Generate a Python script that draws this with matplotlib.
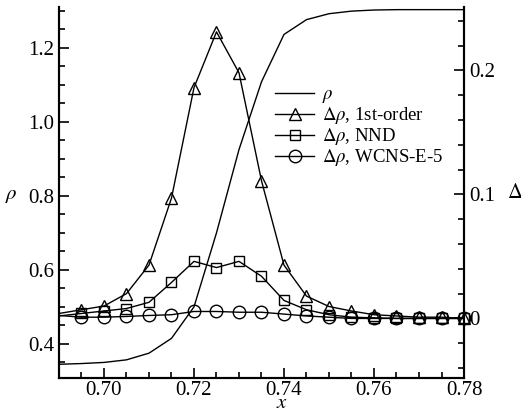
import numpy as np
import matplotlib
matplotlib.use("Agg")
import matplotlib.pyplot as plt
from matplotlib.ticker import MultipleLocator, FormatStrFormatter

plt.rcParams['font.family'] = ['Liberation Serif', 'DejaVu Serif']
plt.rcParams['mathtext.fontset'] = 'stix'

# density profile (left axis)
x_rho = [0.69, 0.695, 0.70, 0.705, 0.71, 0.715, 0.72, 0.725, 0.73, 0.735, 0.74,
         0.745, 0.75, 0.755, 0.76, 0.765, 0.77, 0.775, 0.78]
rho = [0.345, 0.347, 0.350, 0.357, 0.375, 0.415, 0.500, 0.700, 0.925, 1.108, 1.236,
       1.276, 1.292, 1.299, 1.302, 1.303, 1.303, 1.303, 1.303]

# density errors (right axis)
x_d = [0.69, 0.695, 0.70, 0.705, 0.71, 0.715, 0.72, 0.725, 0.73, 0.735, 0.74,
       0.745, 0.75, 0.755, 0.76, 0.765, 0.77, 0.775, 0.78]
d_first = [0.004, 0.007, 0.010, 0.020, 0.043, 0.097, 0.186, 0.231, 0.198, 0.111, 0.043,
           0.018, 0.0096, 0.006, 0.003, 0.002, 0.001, 0.001, 0.0]
d_nnd = [0.002, 0.004, 0.006, 0.008, 0.013, 0.029, 0.046, 0.041, 0.046, 0.034, 0.0145,
         0.007, 0.003, 0.001, 0.0005, 0.0, 0.0, 0.0, 0.0]
d_wcns = [0.0024, 0.001, 0.001, 0.0016, 0.0024, 0.003, 0.0056, 0.0056, 0.005, 0.005, 0.0035,
          0.002, 0.001, 0.0, 0.0, 0.0, 0.0, 0.0, 0.0]

fig = plt.figure(figsize=(5.21, 4.15), dpi=100)
ax = fig.add_axes([0.1132, 0.0892, 0.7774, 0.8938])
ax2 = ax.twinx()

ln0, = ax.plot(x_rho, rho, color='black', lw=1.0)
mk = dict(color='black', lw=1.0, mfc='none', mew=1.0, markevery=slice(1, None), clip_on=False)
ln1, = ax2.plot(x_d, d_first, marker='^', ms=8, **mk)
ln2, = ax2.plot(x_d, d_nnd, marker='s', ms=6.5, **mk)
ln3, = ax2.plot(x_d, d_wcns, marker='o', ms=9, **mk)

ax.set_xlim(0.69, 0.78)
ax.set_ylim(0.308, 1.31)
ax2.set_ylim(-0.048, 0.251)

for a in (ax, ax2):
    for s in a.spines.values():
        s.set_linewidth(1.5)
    a.spines['top'].set_visible(False)

ax.xaxis.set_major_locator(MultipleLocator(0.02))
ax.xaxis.set_minor_locator(MultipleLocator(0.005))
ax.xaxis.set_major_formatter(FormatStrFormatter('%.2f'))
ax.yaxis.set_major_locator(MultipleLocator(0.2))
ax.yaxis.set_minor_locator(MultipleLocator(0.05))
ax.yaxis.set_major_formatter(FormatStrFormatter('%.1f'))
ax2.yaxis.set_major_locator(MultipleLocator(0.1))
ax2.yaxis.set_minor_locator(MultipleLocator(0.02))
ax2.yaxis.set_major_formatter(FormatStrFormatter('%g'))

ax.tick_params(axis='both', which='both', direction='in', labelsize=15, width=1.2,
               top=False, right=False)
ax.tick_params(which='major', length=7)
ax.tick_params(which='minor', length=4)
ax.tick_params(axis='x', pad=2.5)
ax2.tick_params(axis='y', which='both', direction='in', labelsize=15, width=1.2)
ax2.tick_params(which='major', length=7)
ax2.tick_params(which='minor', length=4)

fig.text(0.01, 0.530, r'$\rho$', fontsize=15, va='center', ha='left')
fig.text(0.974, 0.535, r'$\Delta\rho$', fontsize=15, va='center', ha='left')
fig.text(0.541, 0.004, r'$x$', fontsize=15, va='bottom', ha='center')

fig.legend([ln0, ln1, ln2, ln3],
           [r'$\rho$', r'$\Delta\rho$, 1st-order', r'$\Delta\rho$, NND', r'$\Delta\rho$, WCNS-E-5'],
           loc='upper left', bbox_to_anchor=(0.51, 0.815), frameon=False, fontsize=13.5,
           handlelength=2.1, handletextpad=0.4, labelspacing=0.0, borderpad=0.0)

fig.savefig('out.png', dpi=100)
